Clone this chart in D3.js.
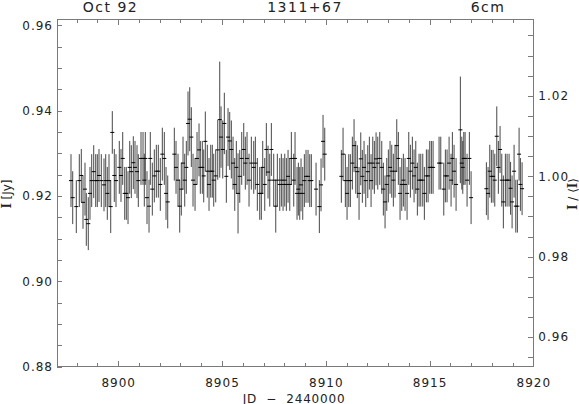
<!DOCTYPE html>
<html>
<head>
<meta charset="utf-8">
<script src="https://d3js.org/d3.v7.min.js"></script>
<style>
  body { margin: 0; background: #fff; }
  svg { display: block; }
  text { font-family: "DejaVu Sans", sans-serif; fill: #222; }
</style>
</head>
<body>
<div id="chart"></div>
<script>
// Julian date - 2440000 of each measurement
const jd = [
  8897.725, 8897.807, 8897.980, 8898.125, 8898.221, 8898.303, 8898.399, 8898.462, 8898.558, 8898.640,
  8898.722, 8898.819, 8898.915, 8898.992, 8899.074, 8899.185, 8899.315, 8899.397, 8899.474, 8899.556,
  8899.638, 8899.715, 8899.811, 8899.893, 8900.052, 8900.134, 8900.216, 8900.313, 8900.390, 8900.472,
  8900.554, 8900.631, 8900.727, 8900.809, 8900.905, 8900.968, 8901.098, 8901.195, 8901.257, 8901.305,
  8901.387, 8901.484, 8901.546, 8901.643, 8901.739, 8901.836, 8901.932, 8902.028, 8902.125, 8902.221,
  8902.303, 8902.385, 8902.703, 8902.785, 8902.881, 8902.963, 8903.040, 8903.122, 8903.204, 8903.281,
  8903.363, 8903.445, 8903.522, 8903.604, 8903.701, 8903.797, 8903.893, 8903.956, 8904.052, 8904.120,
  8904.197, 8904.293, 8904.375, 8904.457, 8904.534, 8904.602, 8904.698, 8904.795, 8904.891, 8904.954,
  8905.036, 8905.113, 8905.209, 8905.291, 8905.373, 8905.450, 8905.532, 8905.614, 8905.691, 8905.773,
  8905.855, 8905.951, 8906.048, 8906.125, 8906.207, 8906.303, 8906.414, 8906.530, 8906.607, 8906.703,
  8906.819, 8906.896, 8906.963, 8907.060, 8907.137, 8907.219, 8907.301, 8907.378, 8907.493, 8907.590,
  8907.667, 8907.783, 8907.860, 8907.942, 8908.024, 8908.101, 8908.183, 8908.265, 8908.342, 8908.457,
  8908.520, 8908.616, 8908.679, 8908.746, 8908.809, 8908.891, 8908.968, 8909.050, 8909.146, 8909.228,
  8909.305, 8909.532, 8909.691, 8909.773, 8909.869, 8909.951, 8910.751, 8910.833, 8910.944, 8911.026,
  8911.108, 8911.185, 8911.281, 8911.363, 8911.445, 8911.522, 8911.604, 8911.686, 8911.763, 8911.845,
  8911.927, 8912.024, 8912.101, 8912.183, 8912.265, 8912.342, 8912.424, 8912.505, 8912.602, 8912.698,
  8912.775, 8912.857, 8912.939, 8913.016, 8913.098, 8913.180, 8913.257, 8913.339, 8913.421, 8913.498,
  8913.580, 8913.662, 8913.739, 8913.821, 8913.918, 8913.999, 8914.077, 8914.173, 8914.255, 8914.337,
  8914.414, 8914.496, 8914.578, 8914.674, 8914.751, 8914.848, 8914.930, 8915.011, 8915.089, 8915.171,
  8915.460, 8915.542, 8915.686, 8915.763, 8915.845, 8915.942, 8916.038, 8916.101, 8916.183, 8916.279,
  8916.486, 8916.554, 8916.602, 8916.650, 8916.713, 8916.809, 8916.920, 8917.002, 8917.739, 8917.821,
  8917.903, 8917.980, 8918.062, 8918.144, 8918.240, 8918.317, 8918.399, 8918.481, 8918.558, 8918.655,
  8918.737, 8918.833, 8918.905, 8918.978, 8919.074, 8919.156, 8919.233, 8919.315, 8919.378, 8919.460
];

// flux density I [Jy]
const flux = [
  0.9236, 0.9196, 0.9175, 0.9236, 0.9248, 0.9185, 0.9216, 0.9145, 0.9135, 0.9206,
  0.9236, 0.9257, 0.9236, 0.9236, 0.9248, 0.9236, 0.9226, 0.9236, 0.9206, 0.9236,
  0.9175, 0.9349, 0.9248, 0.9236, 0.9267, 0.9248, 0.9288, 0.9206, 0.9206, 0.9196,
  0.9267, 0.9257, 0.9278, 0.9267, 0.9257, 0.9236, 0.9288, 0.9288, 0.9237, 0.9288,
  0.9196, 0.9176, 0.9288, 0.9216, 0.9247, 0.9258, 0.9258, 0.9227, 0.9298, 0.9288,
  0.9206, 0.9186, 0.9298, 0.9267, 0.9237, 0.9176, 0.9216, 0.9277, 0.9237, 0.9267,
  0.9370, 0.9380, 0.9338, 0.9237, 0.9227, 0.9288, 0.9308, 0.9267, 0.9267, 0.9247,
  0.9328, 0.9258, 0.9227, 0.9258, 0.9258, 0.9237, 0.9247, 0.9308, 0.9379, 0.9338,
  0.9309, 0.9370, 0.9246, 0.9338, 0.9329, 0.9309, 0.9277, 0.9227, 0.9267, 0.9206,
  0.9246, 0.9288, 0.9309, 0.9277, 0.9288, 0.9237, 0.9277, 0.9267, 0.9277, 0.9227,
  0.9206, 0.9206, 0.9267, 0.9227, 0.9309, 0.9256, 0.9237, 0.9309, 0.9237, 0.9176,
  0.9237, 0.9227, 0.9237, 0.9227, 0.9237, 0.9227, 0.9246, 0.9227, 0.9288, 0.9237,
  0.9288, 0.9206, 0.9216, 0.9206, 0.9226, 0.9206, 0.9236, 0.9246, 0.9246, 0.9236,
  0.9236, 0.9216, 0.9175, 0.9226, 0.9328, 0.9298, 0.9246, 0.9298, 0.9236, 0.9206,
  0.9236, 0.9236, 0.9277, 0.9318, 0.9267, 0.9257, 0.9206, 0.9287, 0.9246, 0.9267,
  0.9236, 0.9257, 0.9277, 0.9236, 0.9277, 0.9267, 0.9287, 0.9277, 0.9288, 0.9267,
  0.9216, 0.9186, 0.9227, 0.9247, 0.9267, 0.9258, 0.9237, 0.9258, 0.9318, 0.9288,
  0.9206, 0.9227, 0.9237, 0.9227, 0.9206, 0.9288, 0.9258, 0.9277, 0.9247, 0.9267,
  0.9216, 0.9237, 0.9237, 0.9237, 0.9206, 0.9247, 0.9247, 0.9267, 0.9267, 0.9267,
  0.9277, 0.9277, 0.9216, 0.9247, 0.9247, 0.9277, 0.9237, 0.9288, 0.9258, 0.9227,
  0.9355, 0.9277, 0.9267, 0.9288, 0.9288, 0.9237, 0.9288, 0.9196, 0.9217, 0.9206,
  0.9258, 0.9246, 0.9246, 0.9237, 0.9340, 0.9267, 0.9309, 0.9237, 0.9186, 0.9237,
  0.9237, 0.9237, 0.9218, 0.9186, 0.9258, 0.9176, 0.9176, 0.9298, 0.9227, 0.9217
];

// 1-sigma error [Jy]
const fluxErr = [
  0.0062, 0.0062, 0.0062, 0.0062, 0.0062, 0.0062, 0.0062, 0.0062, 0.0062, 0.0062,
  0.0062, 0.0062, 0.0062, 0.0062, 0.0062, 0.0062, 0.0062, 0.0062, 0.0062, 0.0062,
  0.0062, 0.0050, 0.0062, 0.0062, 0.0062, 0.0062, 0.0062, 0.0062, 0.0062, 0.0062,
  0.0062, 0.0062, 0.0062, 0.0062, 0.0062, 0.0062, 0.0062, 0.0062, 0.0062, 0.0062,
  0.0062, 0.0062, 0.0062, 0.0062, 0.0062, 0.0062, 0.0062, 0.0062, 0.0062, 0.0062,
  0.0062, 0.0062, 0.0062, 0.0062, 0.0062, 0.0062, 0.0062, 0.0062, 0.0062, 0.0062,
  0.0075, 0.0075, 0.0070, 0.0062, 0.0062, 0.0062, 0.0062, 0.0062, 0.0062, 0.0062,
  0.0070, 0.0062, 0.0062, 0.0062, 0.0062, 0.0062, 0.0062, 0.0070, 0.0136, 0.0072,
  0.0068, 0.0072, 0.0062, 0.0068, 0.0068, 0.0068, 0.0062, 0.0062, 0.0062, 0.0094,
  0.0062, 0.0062, 0.0062, 0.0062, 0.0062, 0.0062, 0.0062, 0.0062, 0.0062, 0.0062,
  0.0062, 0.0062, 0.0062, 0.0062, 0.0062, 0.0062, 0.0062, 0.0062, 0.0062, 0.0062,
  0.0062, 0.0062, 0.0062, 0.0062, 0.0062, 0.0062, 0.0062, 0.0062, 0.0062, 0.0062,
  0.0062, 0.0062, 0.0062, 0.0062, 0.0062, 0.0062, 0.0062, 0.0062, 0.0062, 0.0062,
  0.0062, 0.0062, 0.0062, 0.0062, 0.0062, 0.0062, 0.0062, 0.0062, 0.0062, 0.0062,
  0.0062, 0.0062, 0.0062, 0.0062, 0.0062, 0.0062, 0.0062, 0.0062, 0.0062, 0.0062,
  0.0062, 0.0062, 0.0062, 0.0062, 0.0062, 0.0062, 0.0062, 0.0062, 0.0062, 0.0062,
  0.0062, 0.0062, 0.0062, 0.0062, 0.0062, 0.0062, 0.0062, 0.0062, 0.0062, 0.0062,
  0.0062, 0.0062, 0.0062, 0.0062, 0.0062, 0.0062, 0.0062, 0.0062, 0.0062, 0.0062,
  0.0062, 0.0062, 0.0062, 0.0062, 0.0062, 0.0062, 0.0062, 0.0062, 0.0062, 0.0062,
  0.0062, 0.0062, 0.0062, 0.0062, 0.0062, 0.0062, 0.0062, 0.0062, 0.0062, 0.0062,
  0.0125, 0.0062, 0.0062, 0.0062, 0.0062, 0.0062, 0.0062, 0.0062, 0.0062, 0.0062,
  0.0062, 0.0062, 0.0062, 0.0062, 0.0070, 0.0062, 0.0055, 0.0062, 0.0062, 0.0062,
  0.0062, 0.0062, 0.0062, 0.0062, 0.0062, 0.0062, 0.0062, 0.0062, 0.0062, 0.0062
];

// axis ticks
const xTicks = [8900, 8905, 8910, 8915, 8920];
const xMinorTicks = [8898, 8899, 8901, 8902, 8903, 8904, 8906, 8907, 8908, 8909, 8911,
                     8912, 8913, 8914, 8916, 8917, 8918, 8919];
const yTicks = [0.88, 0.90, 0.92, 0.94, 0.96];
const yRelTicks = [0.96, 0.98, 1.00, 1.02];
const titles = ["Oct 92", "1311+67", "6cm"];

const W = 579, H = 404;
const box = { left: 57, right: 533.3, top: 19, bottom: 366.5 };

const x = d3.scaleLinear().domain([8897.05, 8920]).range([box.left, box.right]);
const y = d3.scaleLinear().domain([0.88, 0.9615]).range([box.bottom, box.top]);
const yRel = d3.scaleLinear().domain([0.9527, 1.0391]).range([box.bottom, box.top]);

const svg = d3.select("#chart").append("svg")
    .attr("width", W)
    .attr("height", H);

// minor tick positions every 0.005
const yMinor = d3.range(0, 17).map(i => +(0.88 + i * 0.005).toFixed(3)).filter(v => !yTicks.includes(v));
const yRelMinor = d3.range(0, 17).map(i => +(0.955 + i * 0.005).toFixed(3)).filter(v => !yRelTicks.includes(v));

function styleAxis(g) {
    g.select(".domain").remove();
    g.selectAll("line").attr("stroke", "#7a7a7a").attr("shape-rendering", "crispEdges");
    g.selectAll("text")
        .attr("fill", "#222")
        .style("font-family", "'DejaVu Sans', sans-serif")
        .style("font-size", "12px")
        .style("letter-spacing", "1px");
}

// bottom axis
svg.append("g")
    .attr("transform", `translate(0,${box.bottom})`)
    .call(d3.axisBottom(x).tickValues(xTicks).tickSize(-6).tickPadding(11.5).tickFormat(d3.format("d")))
    .call(styleAxis);
svg.append("g")
    .attr("transform", `translate(0,${box.bottom})`)
    .call(d3.axisBottom(x).tickValues(xMinorTicks).tickSize(-4).tickFormat(""))
    .call(styleAxis);

// top axis (ticks only)
svg.append("g")
    .attr("transform", `translate(0,${box.top})`)
    .call(d3.axisTop(x).tickValues(xTicks).tickSize(-6).tickFormat(""))
    .call(styleAxis);
svg.append("g")
    .attr("transform", `translate(0,${box.top})`)
    .call(d3.axisTop(x).tickValues(xMinorTicks).tickSize(-4).tickFormat(""))
    .call(styleAxis);

// left axis: I [Jy]
svg.append("g")
    .attr("transform", `translate(${box.left},0)`)
    .call(d3.axisLeft(y).tickValues(yTicks).tickSize(-5).tickPadding(4).tickFormat(d3.format(".2f")))
    .call(styleAxis);
svg.append("g")
    .attr("transform", `translate(${box.left},0)`)
    .call(d3.axisLeft(y).tickValues(yMinor).tickSize(-5).tickFormat(""))
    .call(styleAxis);

// right axis: I / <I>
svg.append("g")
    .attr("transform", `translate(${box.right},0)`)
    .call(d3.axisRight(yRel).tickValues(yRelTicks).tickSize(-5).tickPadding(5).tickFormat(d3.format(".2f")))
    .call(styleAxis);
svg.append("g")
    .attr("transform", `translate(${box.right},0)`)
    .call(d3.axisRight(yRel).tickValues(yRelMinor).tickSize(-5).tickFormat(""))
    .call(styleAxis);

// frame
svg.append("rect")
    .attr("x", box.left)
    .attr("y", box.top)
    .attr("width", box.right - box.left)
    .attr("height", box.bottom - box.top)
    .attr("fill", "none")
    .attr("stroke", "#7a7a7a")
    .attr("shape-rendering", "crispEdges");

// error bars and points
const pts = jd.map((t, i) => ({ t: t, f: flux[i], e: fluxErr[i] }));
const marks = svg.append("g");

marks.selectAll("line.err")
    .data(pts)
    .join("line")
    .attr("class", "err")
    .attr("x1", d => x(d.t))
    .attr("x2", d => x(d.t))
    .attr("y1", d => y(d.f - d.e))
    .attr("y2", d => y(d.f + d.e))
    .attr("stroke", "#333")
    .attr("stroke-width", 0.9);

marks.selectAll("line.pt")
    .data(pts)
    .join("line")
    .attr("class", "pt")
    .attr("x1", d => x(d.t) - 2)
    .attr("x2", d => x(d.t) + 2)
    .attr("y1", d => y(d.f))
    .attr("y2", d => y(d.f))
    .attr("stroke", "#000")
    .attr("stroke-width", 1);

// titles across top
const titleX = [110.5, 305, 488];
svg.selectAll("text.title")
    .data(titles)
    .join("text")
    .attr("class", "title")
    .attr("x", (d, i) => titleX[i])
    .attr("y", 11.7)
    .attr("text-anchor", "middle")
    .style("font-size", "14px")
    .style("letter-spacing", "1.5px")
    .text(d => d);

// x axis title
svg.append("text")
    .attr("x", 294)
    .attr("y", 402.5)
    .attr("text-anchor", "middle")
    .style("font-size", "12px")
    .style("letter-spacing", "0.8px")
    .style("white-space", "pre")
    .text("JD  \u2212  2440000");

// left y title
const yl = svg.append("text")
    .attr("transform", "translate(11,194) rotate(-90)")
    .attr("text-anchor", "middle")
    .style("white-space", "pre");
yl.append("tspan")
    .style("font-family", "'Liberation Serif', serif")
    .style("font-weight", "bold")
    .style("font-size", "14px")
    .text("I ");
yl.append("tspan")
    .style("font-size", "12px")
    .text("[Jy]");

// right y title
const yr = svg.append("text")
    .attr("transform", "translate(577,194) rotate(-90)")
    .attr("text-anchor", "middle")
    .style("white-space", "pre");
yr.append("tspan")
    .style("font-family", "'Liberation Serif', serif")
    .style("font-weight", "bold")
    .style("font-size", "14px")
    .text("I");
yr.append("tspan")
    .style("font-size", "12px")
    .text(" / \u27E8");
yr.append("tspan")
    .style("font-family", "'Liberation Serif', serif")
    .style("font-weight", "bold")
    .style("font-size", "14px")
    .text("I");
yr.append("tspan")
    .style("font-size", "12px")
    .text("\u27E9");
</script>
</body>
</html>
